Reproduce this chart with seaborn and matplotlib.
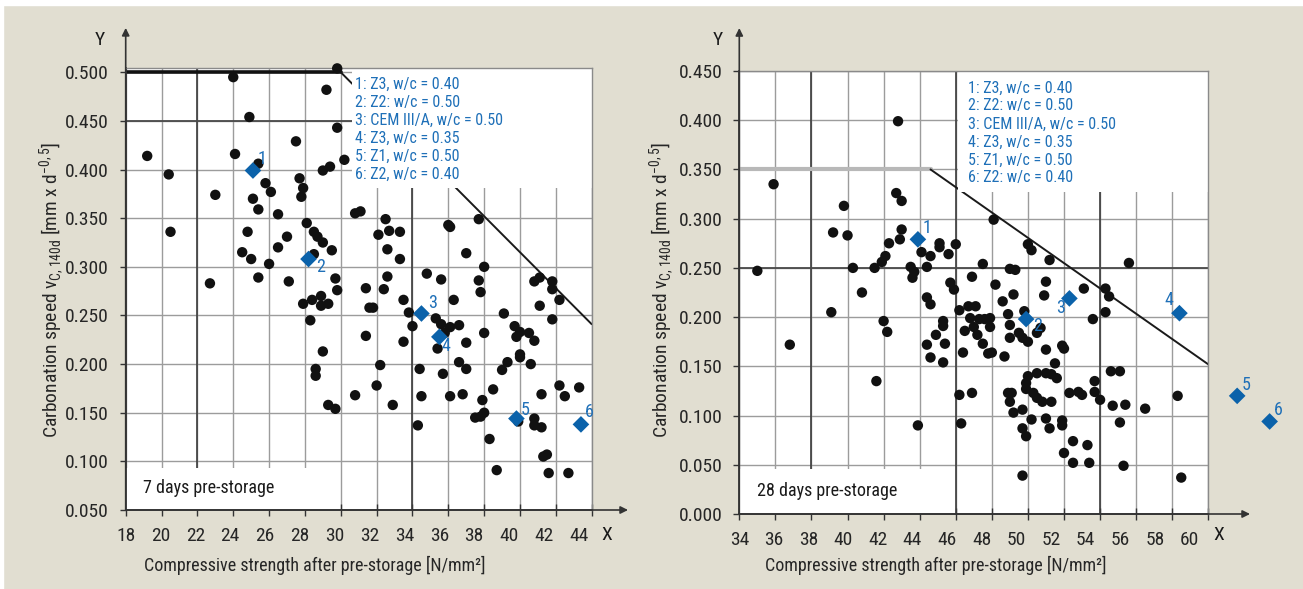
import matplotlib
matplotlib.use('Agg')
import matplotlib.pyplot as plt
from matplotlib import font_manager as fm
from matplotlib.transforms import ScaledTranslation
import seaborn as sns
from matplotlib.patches import Rectangle

#---------------------------------------------------------
# 7 days pre-storage: compressive strength [N/mm2] / carbonation speed
left_strength = [29.8, 24.0, 29.2, 24.9, 29.8, 27.5, 19.2, 24.1, 30.2, 25.4, 29.0, 29.4, 20.4, 25.8,
                 26.1, 27.7, 27.9, 27.8, 23.0, 25.1, 25.4, 26.5, 30.8, 31.1, 20.5, 24.8, 28.1, 28.5,
                 28.7, 29.0, 29.5, 27.0, 26.5, 24.5, 25.0, 26.0, 28.5, 22.7, 25.4, 27.1, 29.7, 29.8,
                 27.9, 28.4, 28.9, 28.9, 29.3, 28.3, 29.0, 28.6, 28.6, 30.8, 29.3, 29.7,
                 32.5, 32.1, 32.7, 33.3, 32.6, 33.3, 36.0, 36.1, 37.7, 37.0, 38.0, 34.8, 35.6, 32.6,
                 31.4, 32.4, 37.7, 37.8, 33.5, 31.6, 31.8, 33.8, 36.3, 35.3, 35.6, 36.1, 36.6, 35.8,
                 34.0, 31.4, 33.5, 35.4, 37.0, 38.0, 32.2, 34.4, 36.6, 37.0, 35.7, 32.0, 32.9, 34.5,
                 36.1, 36.8, 34.3, 37.9, 38.5, 37.5, 38.0, 37.8, 38.3, 38.7, 39.1, 39.7, 39.8, 40.0,
                 40.5, 40.8, 40.0, 40.0, 39.3, 39.0, 40.6, 41.1, 40.8, 41.8, 41.8, 42.2, 41.1, 41.8,
                 41.2, 42.2, 42.5, 43.3, 39.9, 40.8, 40.8, 41.2, 41.3, 41.5, 41.6, 42.7]
left_speed = [0.504, 0.495, 0.482, 0.454, 0.443, 0.429, 0.414, 0.416, 0.410, 0.406, 0.399, 0.403, 0.395, 0.386,
              0.377, 0.391, 0.381, 0.372, 0.374, 0.370, 0.359, 0.354, 0.355, 0.357, 0.336, 0.336, 0.345, 0.336,
              0.331, 0.325, 0.317, 0.331, 0.320, 0.315, 0.308, 0.303, 0.313, 0.283, 0.289, 0.285, 0.288, 0.276,
              0.262, 0.266, 0.270, 0.260, 0.262, 0.245, 0.213, 0.195, 0.188, 0.168, 0.158, 0.154,
              0.349, 0.333, 0.337, 0.336, 0.318, 0.308, 0.343, 0.341, 0.349, 0.314, 0.300, 0.293, 0.287, 0.290,
              0.278, 0.277, 0.286, 0.274, 0.266, 0.258, 0.258, 0.253, 0.266, 0.247, 0.241, 0.238, 0.240, 0.232,
              0.239, 0.229, 0.223, 0.216, 0.222, 0.232, 0.199, 0.195, 0.202, 0.195, 0.190, 0.178, 0.158, 0.167,
              0.167, 0.169, 0.137, 0.163, 0.174, 0.145, 0.150, 0.146, 0.123, 0.091, 0.252, 0.239, 0.228, 0.233,
              0.232, 0.224, 0.210, 0.207, 0.202, 0.194, 0.200, 0.289, 0.285, 0.285, 0.277, 0.266, 0.260, 0.246,
              0.169, 0.178, 0.167, 0.176, 0.141, 0.144, 0.137, 0.135, 0.105, 0.107, 0.088, 0.088]

# 28 days pre-storage
right_strength = [42.8, 35.9, 35.0, 42.7, 43.0, 39.8, 39.2, 40.0, 43.0, 42.9, 42.3, 42.1, 41.9, 41.5,
                  40.3, 40.8, 39.1, 36.8, 42.0, 42.2, 41.6, 43.9, 43.5, 43.7, 43.6, 44.1, 44.6, 44.4,
                  45.1, 45.1, 45.6, 46.0, 44.4, 44.6, 45.7, 45.9, 45.3, 45.3, 44.9, 44.4, 45.4, 44.6,
                  45.3, 46.2, 46.7, 46.9, 46.5, 46.4, 46.2, 46.9, 46.3, 47.0,
                  48.1, 47.5, 49.0, 49.3, 50.0, 50.2, 51.2, 48.2, 49.2, 51.0, 50.9, 48.6, 48.9, 49.8,
                  49.0, 47.1, 46.8, 47.3, 47.6, 47.9, 47.2, 47.9, 47.5, 47.8, 48.0, 48.7, 49.0, 49.5,
                  49.7, 50.0, 50.7, 51.0, 50.5, 51.9, 52.0, 51.5, 50.0, 50.5, 51.0, 51.3, 51.6, 49.9,
                  49.9, 50.3, 50.5, 50.8, 51.3, 48.9, 49.1, 49.0, 49.2, 49.7, 49.7, 50.2, 49.9, 51.0,
                  51.2, 51.9, 51.9, 52.3, 52.8, 53.0, 53.7, 53.7, 54.0, 52.5, 52.0, 53.3, 52.5, 53.4,
                  49.7, 55.3, 58.5, 54.7, 55.4, 55.1, 56.5, 58.3, 54.6, 55.1, 53.1, 54.3, 54.5, 54.3,
                  53.6, 55.6]
right_speed = [0.399, 0.335, 0.247, 0.326, 0.318, 0.313, 0.286, 0.283, 0.289, 0.279, 0.275, 0.262, 0.256, 0.250,
               0.250, 0.225, 0.205, 0.172, 0.196, 0.185, 0.135, 0.090, 0.251, 0.246, 0.240, 0.266, 0.262, 0.251,
               0.275, 0.271, 0.264, 0.274, 0.220, 0.213, 0.235, 0.228, 0.196, 0.191, 0.182, 0.172, 0.173, 0.159,
               0.154, 0.207, 0.211, 0.241, 0.186, 0.164, 0.121, 0.123, 0.092, 0.190,
               0.299, 0.254, 0.249, 0.248, 0.274, 0.268, 0.258, 0.233, 0.223, 0.236, 0.222, 0.216, 0.203, 0.206,
               0.192, 0.211, 0.199, 0.198, 0.198, 0.199, 0.182, 0.190, 0.173, 0.163, 0.164, 0.160, 0.179, 0.184,
               0.179, 0.175, 0.189, 0.167, 0.184, 0.171, 0.168, 0.153, 0.140, 0.143, 0.143, 0.142, 0.138, 0.133,
               0.127, 0.123, 0.118, 0.114, 0.114, 0.123, 0.123, 0.114, 0.103, 0.106, 0.087, 0.096, 0.079, 0.097,
               0.087, 0.095, 0.090, 0.123, 0.124, 0.121, 0.135, 0.124, 0.116, 0.074, 0.062, 0.070, 0.052, 0.052,
               0.039, 0.049, 0.037, 0.110, 0.111, 0.093, 0.107, 0.120, 0.145, 0.145, 0.229, 0.229, 0.221, 0.205,
               0.198, 0.255]

# the six reference mixes (blue diamonds)
mix_labels = ['1', '2', '3', '4', '5', '6']
mix_names = ['1: Z3, w/c = 0.40', '2: Z2: w/c = 0.50', '3: CEM III/A, w/c = 0.50',
             '4: Z3, w/c = 0.35', '5: Z1, w/c = 0.50']
mix_names_left = mix_names + ['6: Z2, w/c = 0.40']
mix_names_right = mix_names + ['6: Z2: w/c = 0.40']
mix_left_x = [25.1, 28.2, 34.5, 35.5, 39.8, 43.4]
mix_left_y = [0.399, 0.308, 0.252, 0.228, 0.144, 0.138]
mix_right_x = [43.9, 49.9, 52.3, 58.4, 61.6, 63.4]
mix_right_y = [0.279, 0.198, 0.219, 0.204, 0.120, 0.094]

# limit line: plateau then linear decrease
limit_left_x = [18, 30, 44]
limit_left_y = [0.500, 0.500, 0.241]
limit_right_x = [34, 44.6, 60]
limit_right_y = [0.350, 0.350, 0.152]

xticks_left = list(range(18, 46, 2))
yticks_left = [0.05, 0.10, 0.15, 0.20, 0.25, 0.30, 0.35, 0.40, 0.45, 0.50]
xticks_right = list(range(34, 62, 2))
yticks_right = [0.00, 0.05, 0.10, 0.15, 0.20, 0.25, 0.30, 0.35, 0.40, 0.45]

#---------------------------------------------------------
BG = '#E1DED1'
BLUE = '#0B62AA'
TXTBLUE = '#1F70B8'
GRID = '#9c9c9c'
DARK = '#3c3c3c'

# pick a condensed face if one is installed, otherwise a narrow-ish sans
installed = {f.name for f in fm.fontManager.ttflist}
cands = ['Liberation Sans Narrow', 'Noto Sans Condensed', 'Roboto Condensed', 'Open Sans Condensed',
         'Noto Sans SemiCondensed', 'Liberation Sans']
main_font = next((c for c in cands if c in installed), 'DejaVu Sans')
condensed = main_font != 'Liberation Sans' and main_font != 'DejaVu Sans'
FS = 13 if condensed else 11.5      # label size
FT = 14 if condensed else 12        # tick label size
FY = 14 if condensed else 12.5      # y label size
FL = 11.5 if condensed else 10.3    # legend size

sns.set_theme(style='white')
plt.rcParams['font.family'] = [main_font, 'DejaVu Sans']
plt.rcParams['mathtext.fontset'] = 'custom'
plt.rcParams['mathtext.rm'] = main_font
plt.rcParams['text.color'] = '#1a1a1a'

fig = plt.figure(figsize=(13.03, 5.89), dpi=100, facecolor=BG)
# thin white page border at top/left
fig.patches.append(Rectangle((0, 1 - 5 / 589), 1, 5 / 589, transform=fig.transFigure, color='white', zorder=0))
fig.patches.append(Rectangle((0, 0), 3 / 1303, 1, transform=fig.transFigure, color='white', zorder=0))

axL = fig.add_axes([125.7 / 1303, 79 / 589, 466 / 1303, 442.3 / 589])
axR = fig.add_axes([739.3 / 1303, 75 / 589, 469 / 1303, 443 / 589])

ylbl = 'Carbonation speed v$_\\mathregular{C,140d}$ [mm x d$^\\mathregular{-0,5}$]'
xlbl = 'Compressive strength after pre-storage [N/mm\u00b2]'


def plt_panel(ax, sx, sy, mx, my, lx, ly, xticks, yticks, xlim, ylim, dark_x, dark_y,
              plateau_style, names, leg_x, lbl_off, panel_txt, leg_box, txt_box, ylab_xy, xlab_xy,
              Y_xy, X_xy, tick_shift):
	ax.set_facecolor('white')
	ax.set_xlim(*xlim)
	ax.set_ylim(*ylim)
	ax.set_xticks(xticks)
	ax.set_yticks(yticks)
	ax.set_yticklabels([f'{v:.3f}' for v in yticks])
	ax.grid(True, color=GRID, lw=1.0, zorder=0.5)
	ax.set_axisbelow(True)
	for v in dark_x:
		ax.axvline(v, color=DARK, lw=1.2, zorder=0.8)
	for v, c in dark_y:
		ax.axhline(v, color=c, lw=1.3, zorder=0.8)
	# limit line
	ax.plot(lx[:2], ly[:2], zorder=0.9, **plateau_style)
	ax.plot(lx[1:], ly[1:], color='#1a1a1a', lw=1.4, zorder=0.9)
	# white boxes for legend text and panel label
	ax.add_patch(Rectangle((leg_box[0], leg_box[1]), 1 - leg_box[0], 1 - leg_box[1], transform=ax.transAxes,
	                       facecolor='white', edgecolor='none', zorder=1.5))
	ax.add_patch(Rectangle((0, 0), txt_box[0], txt_box[1], transform=ax.transAxes,
	                       facecolor='white', edgecolor='none', zorder=1.5))
	# points
	sns.scatterplot(x=sx, y=sy, ax=ax, color='#111111', s=56, edgecolor='none', zorder=3, clip_on=False)
	sns.scatterplot(x=mx, y=my, ax=ax, color=BLUE, marker='D', s=72, edgecolor='none', zorder=4, clip_on=False)
	for lab, x, y, off in zip(mix_labels, mx, my, lbl_off):
		ax.annotate(lab, (x, y), xytext=(off[0] * 0.72, off[1] * 0.72), textcoords='offset points',
		            ha='center', va='center', color=TXTBLUE, fontsize=FS, annotation_clip=False, zorder=5)
	# legend text
	for i, t in enumerate(names):
		ax.text(leg_x, 0.962 - i * 0.0407, t, transform=ax.transAxes, ha='left', va='center',
		        color=TXTBLUE, fontsize=FL, zorder=5)
	ax.text(0.037, txt_box[1] * 0.52, panel_txt, transform=ax.transAxes, ha='left', va='center',
	        fontsize=FS, color='#1a1a1a', zorder=5)
	# spines / ticks
	for s in ['top', 'right']:
		ax.spines[s].set_color('#8a8a8a')
		ax.spines[s].set_linewidth(1.0)
	for s in ['left', 'bottom']:
		ax.spines[s].set_color('#333333')
		ax.spines[s].set_linewidth(1.2)
	ax.tick_params(axis='x', direction='inout', length=8, width=1, color='#333333', pad=8, labelsize=FT,
	               bottom=True)
	ax.tick_params(axis='y', direction='out', length=4, width=1, color='#333333', pad=8, labelsize=FT, left=True)
	# x tick labels drift left of their gridlines, as in the print
	for i, tk in enumerate(ax.xaxis.get_major_ticks()):
		tk.label1.set_transform(tk.label1.get_transform() +
		                        ScaledTranslation(-tick_shift * i / 100, 0, fig.dpi_scale_trans))
	# arrows
	ax.annotate('', xy=(0, Y_xy[2]), xytext=(0, 0), xycoords='axes fraction',
	            arrowprops=dict(arrowstyle='-|>', color='#333333', lw=1.2, mutation_scale=11, shrinkA=0, shrinkB=0),
	            annotation_clip=False)
	ax.annotate('', xy=(X_xy[2], 0), xytext=(0, 0), xycoords='axes fraction',
	            arrowprops=dict(arrowstyle='-|>', color='#333333', lw=1.2, mutation_scale=11, shrinkA=0, shrinkB=0),
	            annotation_clip=False)
	ax.text(Y_xy[0], Y_xy[1], 'Y', transform=ax.transAxes, ha='center', va='center', fontsize=FT)
	ax.text(X_xy[0], X_xy[1], 'X', transform=ax.transAxes, ha='center', va='center', fontsize=FT)
	# labels
	ax.set_ylabel(ylbl, fontsize=FY)
	ax.set_xlabel(xlbl, fontsize=FS)
	ax.yaxis.set_label_coords(*ylab_xy)
	ax.xaxis.set_label_coords(*xlab_xy)
	return


plt_panel(axL, left_strength, left_speed, mix_left_x, mix_left_y, limit_left_x, limit_left_y,
          xticks_left, yticks_left, (18, 44), (0.05, 0.5047), [22, 34], [(0.45, '#4a4a4a')],
          dict(color='#111111', lw=2.6), mix_names_left, 0.492,
          [(9, 12), (12, -8), (11, 11), (7, -9), (9, 9), (8, 12)],
          '7 days pre-storage', (0.4856, 0.728), (0.46, 0.095),
          (-0.127, 0.497), (0.406, -0.104), (-0.055, 1.063, 1.09), (1.033, -0.057, 1.078), 1.0)

plt_panel(axR, right_strength, right_speed, mix_right_x, mix_right_y, limit_right_x, limit_right_y,
          xticks_right, yticks_right, (34, 60), (0.0, 0.45), [38, 46, 54], [(0.25, '#4a4a4a')],
          dict(color='#b8b8b8', lw=3.0), mix_names_right, 0.4876,
          [(9, 11), (12, -7), (-9, -10), (-11, 13), (9, 11), (9, 11)],
          '28 days pre-storage', (0.466, 0.727), (0.458, 0.1016),
          (-0.133, 0.506), (0.419, -0.095), (-0.045, 1.07, 1.097), (1.023, -0.047, 1.089), 1.45)

plt.savefig('out.png', dpi=100, facecolor=BG)
plt.close()
